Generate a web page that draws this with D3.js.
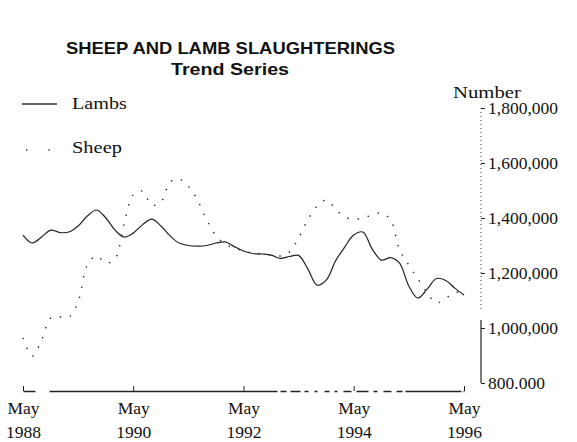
<!DOCTYPE html>
<html>
  <head>
    <script src="https://d3js.org/d3.v7.min.js"></script>
    <style>
      body { margin: 0; background: #fff; }
      #chart { fill: #111; }
      .serif { font-family: "Liberation Serif", "DejaVu Serif", serif; }
    </style>
  </head>
  <body>
    <svg id="chart" height="442" width="577"></svg>
    <script>
      // two-monthly readings, May 1988 .. May 1996
      const months = [
        "1988-05", "1988-07", "1988-09", "1988-11",
        "1989-01", "1989-03", "1989-05", "1989-07", "1989-09", "1989-11",
        "1990-01", "1990-03", "1990-05", "1990-07", "1990-09", "1990-11",
        "1991-01", "1991-03", "1991-05", "1991-07", "1991-09", "1991-11",
        "1992-01", "1992-03", "1992-05", "1992-07", "1992-09", "1992-11",
        "1993-01", "1993-03", "1993-05", "1993-07", "1993-09", "1993-11",
        "1994-01", "1994-03", "1994-05", "1994-07", "1994-09", "1994-11",
        "1995-01", "1995-03", "1995-05", "1995-07", "1995-09", "1995-11",
        "1996-01", "1996-03", "1996-05"
      ];
      const lambs = [
        1338000, 1309000, 1331000, 1356000,
        1347000, 1349000, 1371000, 1407000, 1429000, 1400000,
        1356000, 1331000, 1345000, 1375000, 1396000, 1371000,
        1335000, 1309000, 1300000, 1298000, 1300000, 1309000,
        1313000, 1296000, 1280000, 1271000, 1269000, 1265000,
        1253000, 1260000, 1264000, 1215000, 1156000, 1175000,
        1244000, 1293000, 1338000, 1349000, 1287000, 1247000,
        1256000, 1236000, 1153000, 1109000, 1142000, 1180000,
        1173000, 1145000, 1120000
      ];
      const sheep = [
        964000, 898000, 956000, 1036000,
        1040000, 1040000, 1095000, 1229000, 1262000, 1236000,
        1251000, 1378000, 1484000, 1498000, 1447000, 1458000,
        1531000, 1542000, 1516000, 1465000, 1393000, 1335000,
        1305000, 1291000, 1280000, 1273000, 1269000, 1265000,
        1262000, 1276000, 1327000, 1393000, 1444000, 1465000,
        1433000, 1404000, 1396000, 1400000, 1411000, 1418000,
        1393000, 1284000, 1229000, 1178000, 1127000, 1091000,
        1109000, 1127000, 1138000
      ];
      const yTicks = [800000, 1000000, 1200000, 1400000, 1600000, 1800000];
      const yTickLabels = ["800.000", "1,000,000", "1,200,000", "1,400,000", "1,600,000", "1,800,000"];
      const xTicks = ["1988-05", "1990-05", "1992-05", "1994-05", "1996-05"];

      const svg = d3.select("#chart");
      const parseMonth = d3.timeParse("%Y-%m");
      const data = months.map((m, i) => ({date: parseMonth(m), lambs: lambs[i], sheep: sheep[i]}));

      const x = d3.scaleTime()
        .domain([parseMonth(months[0]), parseMonth(months[months.length - 1])])
        .range([23, 464]);
      const y = d3.scaleLinear().domain([800000, 1800000]).range([383, 108]);

      // titles
      svg.append("text")
        .attr("x", 66).attr("y", 54)
        .attr("textLength", 329).attr("lengthAdjust", "spacingAndGlyphs")
        .style("font-family", "'Liberation Sans', Arial, sans-serif")
        .style("font-weight", "bold").style("font-size", "16.5px")
        .text("SHEEP AND LAMB SLAUGHTERINGS");
      svg.append("text")
        .attr("x", 171).attr("y", 75)
        .attr("textLength", 118).attr("lengthAdjust", "spacingAndGlyphs")
        .style("font-family", "'Liberation Sans', Arial, sans-serif")
        .style("font-weight", "bold").style("font-size", "16px")
        .text("Trend Series");

      // right axis
      const yAxis = d3.axisRight(y)
        .tickValues(yTicks)
        .tickFormat((d, i) => yTickLabels[i])
        .tickSize(4)
        .tickPadding(3);
      const gy = svg.append("g")
        .attr("transform", "translate(481,0)")
        .call(yAxis);
      gy.select(".domain").remove();
      gy.selectAll(".tick line").attr("stroke", "#222");
      gy.selectAll(".tick text")
        .attr("class", "serif")
        .style("font-size", "17.5px")
        .attr("fill", "#111");
      gy.append("line")
        .attr("x1", 0).attr("x2", 0)
        .attr("y1", y(1800000)).attr("y2", y(1060000))
        .attr("stroke", "#333").attr("stroke-dasharray", "1,3");
      gy.append("line")
        .attr("x1", 0).attr("x2", 0)
        .attr("y1", y(1000000) - 8).attr("y2", y(800000))
        .attr("stroke", "#222").attr("stroke-width", 1.2);
      svg.append("text")
        .attr("class", "serif")
        .attr("x", 453).attr("y", 98)
        .attr("textLength", 68).attr("lengthAdjust", "spacingAndGlyphs")
        .style("font-size", "17.5px")
        .text("Number");

      // bottom axis
      const xAxis = d3.axisBottom(x)
        .tickValues(xTicks.map(parseMonth))
        .tickSizeInner(-5).tickSizeOuter(0)
        .tickFormat("");
      const gx = svg.append("g")
        .attr("transform", "translate(0,391)")
        .call(xAxis);
      gx.select(".domain")
        .attr("stroke", "#222").attr("stroke-width", 1.3)
        .attr("stroke-dasharray", "12,14,228,3,6,4,10,4,4,6,3,7,5,5,3,6,8,5,12,5,4,6,8,5,6,3,56,2,2");
      gx.selectAll(".tick line").attr("stroke", "#222");
      gx.selectAll(".tick").each(function(d) {
        const t = d3.select(this);
        t.append("text").attr("class", "serif").attr("y", 23)
          .attr("text-anchor", "middle").style("font-size", "17.5px")
          .attr("fill", "#111").text("May");
        t.append("text").attr("class", "serif").attr("y", 47)
          .attr("text-anchor", "middle").style("font-size", "17.5px")
          .attr("fill", "#111").text(d3.timeFormat("%Y")(d));
      });

      // series
      const lambLine = d3.line().curve(d3.curveCatmullRom)
        .x(d => x(d.date)).y(d => y(d.lambs));
      const sheepLine = d3.line().curve(d3.curveCatmullRom)
        .x(d => x(d.date)).y(d => y(d.sheep));
      svg.append("path").datum(data)
        .attr("d", sheepLine)
        .attr("fill", "none").attr("stroke", "#222")
        .attr("stroke-width", 1.4)
        .attr("stroke-dasharray", "1.4,9");
      svg.append("path").datum(data)
        .attr("d", lambLine)
        .attr("fill", "none").attr("stroke", "#222")
        .attr("stroke-width", 1.2);

      // legend
      svg.append("line")
        .attr("x1", 22).attr("x2", 57).attr("y1", 104).attr("y2", 104)
        .attr("stroke", "#333").attr("stroke-width", 1.3);
      svg.append("text").attr("class", "serif")
        .attr("x", 72).attr("y", 109)
        .attr("textLength", 55).attr("lengthAdjust", "spacingAndGlyphs")
        .style("font-size", "17.5px")
        .text("Lambs");
      svg.append("line")
        .attr("x1", 26).attr("x2", 60).attr("y1", 150).attr("y2", 150)
        .attr("stroke", "#333").attr("stroke-width", 1.4)
        .attr("stroke-dasharray", "1.4,21");
      svg.append("text").attr("class", "serif")
        .attr("x", 72).attr("y", 153)
        .attr("textLength", 50).attr("lengthAdjust", "spacingAndGlyphs")
        .style("font-size", "17.5px")
        .text("Sheep");
    </script>
  </body>
</html>
